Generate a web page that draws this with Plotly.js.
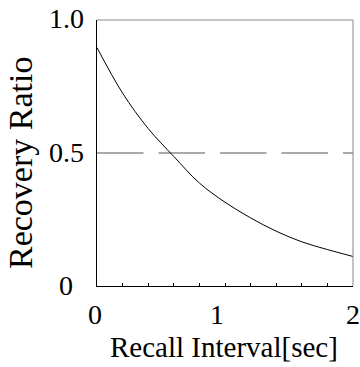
<!DOCTYPE html>
<html>
<head>
<meta charset="utf-8">
<script src="https://cdn.plot.ly/plotly-3.0.1.min.js"></script>
<style>
  html, body { margin: 0; padding: 0; background: #fff; }
  #chart { width: 360px; height: 367px; }
</style>
</head>
<body>
<div id="chart"></div>
<script>
// Data
const intervalSec = [0, 0.2, 0.4, 0.6, 0.8, 1.0, 1.2, 1.4, 1.6, 1.8, 2.0];
const recoveryRatio = [0.896, 0.725, 0.592, 0.487, 0.387, 0.315, 0.256, 0.206, 0.166, 0.137, 0.111];
const referenceX = [0, 2];
const referenceY = [0.5, 0.5];
const xTickValues = [0, 1, 2];
const xTickLabels = ['0', '1', '2'];
const yTickValues = [0, 0.5, 1.0];
const yTickLabels = ['0', '0.5', '1.0'];
const xTitle = 'Recall Interval[sec]';
const yTitle = 'Recovery Ratio';

const FONT = '"Liberation Serif", "Times New Roman", Times, serif';
const tickFont = { family: FONT, size: 28, color: '#000' };
const xTitleFont = { family: FONT, size: 29, color: '#000' };
const yTitleFont = { family: FONT, size: 34, color: '#000' };

const traces = [
  {
    x: referenceX, y: referenceY, mode: 'lines', type: 'scatter',
    line: { color: '#555', width: 1, dash: '46.5px,15px' },
    hoverinfo: 'skip', showlegend: false
  },
  {
    x: intervalSec, y: recoveryRatio, mode: 'lines', type: 'scatter',
    line: { color: '#000', width: 1, shape: 'spline', smoothing: 1 },
    showlegend: false
  }
];

const xShifts = [-2.5, -8, -0.5];
const annotations = [];
xTickValues.forEach((v, i) => {
  annotations.push({
    x: v, xref: 'x', y: -0.109, yref: 'paper',
    text: xTickLabels[i], showarrow: false, font: tickFont,
    xanchor: 'center', yanchor: 'middle', xshift: xShifts[i]
  });
});
yTickValues.forEach((v, i) => {
  annotations.push({
    x: -0.121, xref: 'paper', y: v, yref: 'y',
    text: yTickLabels[i], showarrow: false, font: tickFont,
    xanchor: 'center', yanchor: 'middle', yshift: i === 2 ? 2 : 1
  });
});
annotations.push({
  x: 0.5, xref: 'paper', y: -0.23, yref: 'paper',
  text: xTitle, showarrow: false, font: xTitleFont,
  xanchor: 'center', yanchor: 'middle', xshift: -1
});
annotations.push({
  x: -0.301, xref: 'paper', y: 0.462, yref: 'paper',
  text: yTitle, showarrow: false, font: yTitleFont, textangle: -90,
  xanchor: 'center', yanchor: 'middle'
});

const layout = {
  width: 360, height: 367,
  margin: { l: 97, r: 7, t: 20, b: 81, pad: 0 },
  paper_bgcolor: '#fff', plot_bgcolor: '#fff',
  showlegend: false,
  font: { family: FONT },
  xaxis: {
    range: [0, 2], showgrid: false, zeroline: false,
    showline: true, linecolor: '#000', linewidth: 1,
    ticks: 'inside', tick0: 0, dtick: 0.2, ticklen: 3, tickcolor: '#000', tickwidth: 1,
    showticklabels: false, fixedrange: true
  },
  yaxis: {
    range: [0, 1], showgrid: false, zeroline: false,
    showline: true, linecolor: '#000', linewidth: 1,
    ticks: '', showticklabels: false, fixedrange: true
  },
  shapes: [
    { type: 'line', xref: 'paper', yref: 'paper', x0: 0, x1: 1, y0: 1, y1: 1, line: { color: '#888', width: 1 } },
    { type: 'line', xref: 'paper', yref: 'paper', x0: 1, x1: 1, y0: 0, y1: 1, line: { color: '#888', width: 1 } }
  ],
  annotations: annotations
};

Plotly.newPlot('chart', traces, layout, { displayModeBar: false, staticPlot: true });
</script>
</body>
</html>
